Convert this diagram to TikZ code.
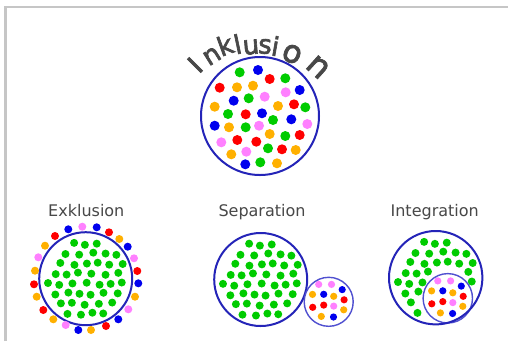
\documentclass[tikz,border=0pt]{standalone}
\usepackage{fontspec}
\setmainfont{DejaVu Sans}
\newfontfamily\inkfont[FakeBold=2.5]{DejaVu Sans}
\definecolor{dg}{HTML}{00CC00}
\definecolor{dr}{HTML}{FF0000}
\definecolor{db}{HTML}{0000EE}
\definecolor{do}{HTML}{FFB000}
\definecolor{dp}{HTML}{FF80FF}
\definecolor{ring}{HTML}{2424B8}
\definecolor{ringlight}{HTML}{5050D0}
\definecolor{framegray}{HTML}{C6C6C6}
\definecolor{txt}{HTML}{484848}
\newcommand\greenfill[5]{%
 \foreach \i in {0,...,7}{%
  \foreach \j in {0,...,7}{%
   \pgfmathsetmacro\myGx{-37.5-6.25*mod(\i,2)+12.5*\j+1.5*sin(\i*137+\j*71)}%
   \pgfmathsetmacro\myGy{-35+10*\i+1.2*cos(\i*59+\j*113)}%
   \pgfmathsetmacro\myGd{veclen(\myGx,\myGy)}%
   \pgfmathsetmacro\myGe{veclen(\myGx-#3,\myGy-#4)}%
   \ifdim\myGd pt<40.5pt \ifdim\myGe pt>#5pt
     \fill[dg] (#1+\myGx,#2+\myGy) circle (4pt);
   \fi\fi
  }}}
\newcommand\smallset[2]{%
 \foreach \c/\u/\v in {dp/-10/-17.4, dp/2.8/-17.4, db/13.5/-12.2, do/-16.2/-7.4,
   db/-5/-7.5, do/5/-5.5, dr/15.4/-2, dr/-16/5.5, dr/-5/3.3, dp/5/4.3,
   do/15/8, do/-7.4/14.6, db/4.8/15.2}
  \fill[\c] (#1+\u,#2+\v) circle (3.6pt);}
\newcommand\inkletter[6]{% name, x, y, rotation, scale, letter
  \begin{scope}[shift={(#2,#3)}]
    \node[inkl, rotate=#4, scale=#5] (#1) at (0,0) {#6};
  \end{scope}}
\begin{document}
\begin{tikzpicture}[x=1pt,y=-1pt,
  inkl/.style={font=\inkfont\fontsize{26}{26}\selectfont, text=txt, inner sep=0pt, anchor=center},
  lbl/.style={font=\fontsize{16}{16}\selectfont, text=txt, inner sep=0pt, anchor=base},
  bigring/.style={draw=ring, line width=2pt},
  smallring/.style={draw=ringlight, line width=1.4pt}]
\useasboundingbox (0,0) rectangle (508,341);
\fill[white] (0,0) rectangle (508,341);
% frame
\draw[framegray, line width=2.5pt] (5.5,341) -- (5.5,7) -- (508,7);

% Inklusion title
\inkletter{inkI}{195}{65}{45}{1}{I}
\inkletter{inkn}{212}{56}{32}{1}{n}
\inkletter{inkk}{225}{45}{20}{1}{k}
\inkletter{inkl}{237.5}{44}{12}{1}{l}
\inkletter{inku}{251}{47}{5}{1}{u}
\inkletter{inks}{265}{46.5}{-3}{1}{s}
\inkletter{inki}{275.5}{46}{-10}{1}{i}
\inkletter{inko}{292}{54}{-22}{1.2}{o}
\inkletter{inkn2}{318}{67}{-42}{1.25}{n}

% Inklusion dots
\foreach \c/\x/\y in {dg/239.7/72.3, db/258/70, dr/269.7/79, dg/285.3/78.3,
  dr/219.7/87.7, do/237/87.3, do/253/85.7, dp/285.7/92.3, db/299.7/90,
  db/233.7/100.7, dg/248.7/98.3, dp/264.7/96.7, do/214.7/106.7, do/278/106,
  dr/294/104.3, dg/305.3/107.3, dg/228/114, dr/245.7/114.3, db/262/113.3,
  dg/273/120, db/291.3/119.3, dp/307.3/124, db/214.7/125.7, do/229/127.3,
  dg/245.7/127.3, dp/259/125.7, do/269.7/134, dg/285.3/136, dr/299.7/135,
  dp/221.3/142.3, dr/237.3/140, dr/256.3/141.7, dg/268/148.3, dr/282/149.3,
  do/295.7/150, do/231.3/154.3, dp/246.3/151.7, db/245.3/164.3, dg/260.3/162.3,
  do/277/163.3}
  \fill[\c] (\x,\y) circle (5pt);
\draw[bigring] (260,116) circle (59pt);

% labels
\node[lbl] (exlabel)  at (86.3,216.5) {Exklusion};
\node[lbl] (seplabel) at (262,216.5)  {Separation};
\node[lbl] (intlabel) at (434.7,216.5) {Integration};

% Exklusion
\greenfill{85.7}{278.7}{0}{0}{-1}
\draw[bigring] (85.7,278.7) circle (46.5pt);
\foreach \c/\x/\y in {db/68.3/229.3, dp/82.3/226.7, db/96.7/227.3, dr/109/232.3,
  do/119.3/239, db/127.7/246.7, dp/134/258.3, dr/137.3/271, db/138.3/283.3,
  do/135/296.7, dp/128.3/309.3, db/118.3/319.3, dr/106/326, do/91/330,
  db/78.3/330, dp/65.7/325, do/53.3/319.3, dr/43.3/310, do/36.7/296.7,
  dr/34/284.3, do/35/270.7, dp/38.3/257.3, do/45/245.7, dr/55/236}
  \fill[\c] (\x,\y) circle (4pt);

% Separation
\greenfill{260.7}{279.5}{0}{0}{-1}
\draw[bigring] (260.7,279.5) circle (46.5pt);
\fill[white] (328.7,301.8) circle (24.5pt);
\smallset{328.7}{301.8}
\draw[smallring] (328.7,301.8) circle (24.5pt);

% Integration
\greenfill{435.7}{277.7}{12.1}{20.6}{29}
\smallset{447.8}{298.3}
\draw[smallring] (447.8,298.3) circle (24.7pt);
\draw[bigring] (435.7,277.7) circle (46.7pt);
\end{tikzpicture}
\end{document}
